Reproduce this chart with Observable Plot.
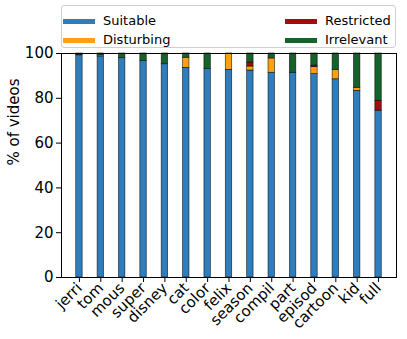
<!DOCTYPE html>
<html><head><meta charset="utf-8">
<script src="https://cdn.jsdelivr.net/npm/d3@7"></script>
<script src="https://cdn.jsdelivr.net/npm/@observablehq/plot@0.6"></script>
<style>
body{margin:0;background:#fff;}
#wrap{position:relative;width:407px;height:339px;font-family:"DejaVu Sans",sans-serif;}
#chart svg text{font-size:15px;font-family:"DejaVu Sans",sans-serif;}
#legend{position:absolute;left:61px;top:5px;width:335px;height:43px;border:1px solid #d0d0d0;border-radius:3px;box-sizing:border-box;background:rgba(255,255,255,0.85);font-size:13px;color:#000;}
.item{position:absolute;height:16px;line-height:16px;}
.sw{position:absolute;top:5.5px;width:32px;height:5px;}
.lb{position:absolute;left:40px;white-space:nowrap;}
</style></head>
<body><div id="wrap"><div id="chart"></div><div id="legend"></div></div>
<script>
const categories = ["jerri","tom","mous","super","disney","cat","color","felix","season","compil","part","episod","cartoon","kid","full"];
const seriesNames = ["Suitable","Disturbing","Restricted","Irrelevant"];
const seriesColors = ["#2e7ebd","#ffa00f","#a30c0c","#14632a"];
const suitable   = [99.2,98.7,97.9,96.6,95.2,93.6,93.0,92.7,92.4,91.4,91.4,90.8,88.5,83.3,74.5];
const disturbing = [0.3,0.5,0,0,0,4.5,0,7.3,1.8,6.4,0,3.1,4.1,1.4,0];
const restricted = [0.3,0,0,0,0,0,0,0,1.8,0,0,0.7,0,0,4.4];
const irrelevant = [0.2,0.8,2.1,3.4,4.8,1.9,7.0,0,4.0,2.2,8.6,5.4,7.4,15.3,21.1];
const yTicks = [0,20,40,60,80,100];
const yLabel = "% of videos";

const seriesValues = [suitable, disturbing, restricted, irrelevant];
const rows = [];
categories.forEach((c,i)=>seriesNames.forEach((s,j)=>rows.push({cat:c, series:s, value:seriesValues[j][i]})));

const chart = Plot.plot({
  width:407, height:339,
  marginTop:53, marginBottom:62, marginLeft:61, marginRight:11,
  style:{fontFamily:"DejaVu Sans, sans-serif", fontSize:"15px", color:"#000", background:"#fff", overflow:"visible"},
  x:{domain:categories, paddingInner:0.7, paddingOuter:0.69, round:false, axis:null},
  y:{domain:[0,100], axis:null},
  color:{domain:seriesNames, range:seriesColors},
  marks:[
    Plot.barY(rows, Plot.stackY({x:"cat", y:"value", fill:"series", order:seriesNames, stroke:"#000", strokeWidth:0.7, strokeOpacity:0.75})),
    Plot.frame({stroke:"#000", strokeWidth:1}),
    Plot.axisY({ticks:yTicks, tickSize:5, tickPadding:3, fontSize:15, label:null}),
    Plot.axisX({tickRotate:-45, tickSize:5, tickPadding:3, fontSize:15, label:null}),
    Plot.text([yLabel], {frameAnchor:"left", text:d=>d, rotate:-90, dx:-47, fontSize:15, fill:"#000"})
  ]
});
document.getElementById("chart").appendChild(chart);

const leg = document.getElementById("legend");
const pos = [[1,7],[1,26],[223,7],[223,26]];
seriesNames.forEach((name,i)=>{
  const d=document.createElement("div"); d.className="item";
  d.style.left=pos[i][0]+"px"; d.style.top=pos[i][1]+"px";
  d.innerHTML=`<div class="sw" style="background:${seriesColors[i]}"></div><div class="lb">${name}</div>`;
  leg.appendChild(d);
});
</script></body></html>
